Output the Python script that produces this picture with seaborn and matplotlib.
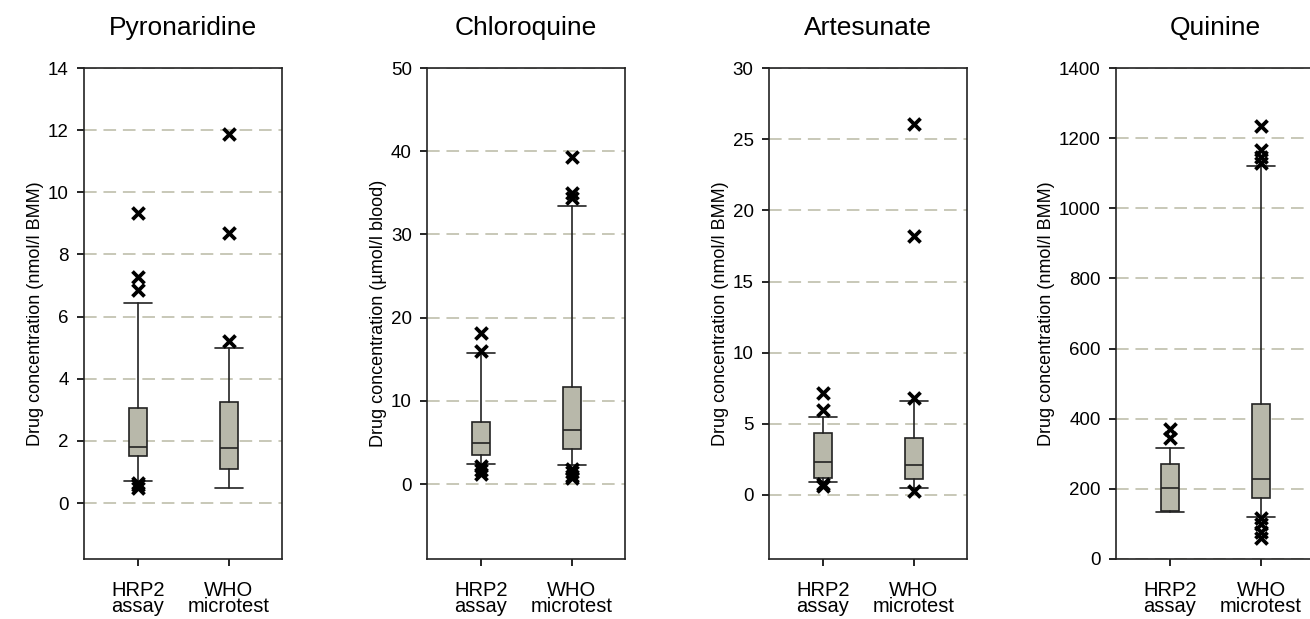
import seaborn as sns
import matplotlib.pyplot as plt
import pandas as pd
import numpy as np

# five-number summaries: whisker low, Q1, median, Q3, whisker high
drugs = ['Pyronaridine', 'Chloroquine', 'Artesunate', 'Quinine']
methods = ['HRP2\nassay', 'WHO\nmicrotest']
ylabels = ['Drug concentration (nmol/l BMM)', 'Drug concentration (µmol/l blood)',
           'Drug concentration (nmol/l BMM)', 'Drug concentration (nmol/l BMM)']

pyro_hrp2 = [0.70, 1.51, 1.80, 3.07, 6.43]
pyro_who = [0.50, 1.10, 1.76, 3.25, 5.00]
pyro_hrp2_out = [9.33, 7.28, 6.85, 0.66, 0.58, 0.50]
pyro_who_out = [11.87, 8.68, 5.20]

chloro_hrp2 = [2.44, 3.46, 4.88, 7.45, 15.7]
chloro_who = [2.35, 4.26, 6.56, 11.66, 33.4]
chloro_hrp2_out = [18.1, 15.96, 2.2, 1.7, 1.2]
chloro_who_out = [39.3, 35.0, 34.4, 1.8, 1.4, 1.0, 0.7]

arte_hrp2 = [0.91, 1.17, 2.33, 4.33, 5.50]
arte_who = [0.49, 1.09, 2.07, 4.02, 6.59]
arte_hrp2_out = [7.18, 5.94, 0.75, 0.60]
arte_who_out = [26.1, 18.2, 6.84, 0.31]

quin_hrp2 = [133, 137, 202, 272, 317]
quin_who = [120, 175, 228, 443, 1120]
quin_hrp2_out = [372, 345]
quin_who_out = [1236, 1165, 1145, 1128, 118, 100, 78, 60]

summaries = [(pyro_hrp2, pyro_who), (chloro_hrp2, chloro_who),
             (arte_hrp2, arte_who), (quin_hrp2, quin_who)]
outliers = [(pyro_hrp2_out, pyro_who_out), (chloro_hrp2_out, chloro_who_out),
            (arte_hrp2_out, arte_who_out), (quin_hrp2_out, quin_who_out)]

y_limits = [(-1.8, 14), (-9, 50), (-4.5, 30), (0, 1400)]
y_steps = [2, 10, 5, 200]

sns.set_style('ticks')
plt.rcParams['font.family'] = ['Liberation Sans', 'DejaVu Sans']
plt.rcParams['text.color'] = 'black'
plt.rcParams['xtick.color'] = 'black'
plt.rcParams['ytick.color'] = 'black'
plt.rcParams['axes.labelcolor'] = 'black'

box_color = '#b8b8aa'
grid_color = '#c8c8b8'

fig = plt.figure(figsize=(13.1, 6.19), dpi=100)
lefts = [0.0641, 0.326, 0.587, 0.852]

for i, drug in enumerate(drugs):
    ax = fig.add_axes([lefts[i], 0.097, 0.151, 0.793])
    stats = []
    for j, s in enumerate(summaries[i]):
        stats.append({'whislo': s[0], 'q1': s[1], 'med': s[2], 'q3': s[3],
                      'whishi': s[4], 'fliers': [], 'label': methods[j]})
    ax.bxp(stats, positions=[1, 2], widths=0.2, patch_artist=True,
           showfliers=False,
           boxprops=dict(facecolor=box_color, edgecolor='#222222', linewidth=1.2),
           medianprops=dict(color='#222222', linewidth=1.2),
           whiskerprops=dict(color='#222222', linewidth=1.2),
           capprops=dict(color='#222222', linewidth=1.2), capwidths=0.31,
           zorder=3)

    rows = []
    for j, outs in enumerate(outliers[i]):
        for v in outs:
            rows.append({'pos': j + 1, 'value': v})
    out_df = pd.DataFrame(rows)
    sns.scatterplot(data=out_df, x='pos', y='value', marker='x', color='black',
                    s=75, linewidth=2.7, ax=ax, zorder=4)

    lo, hi = y_limits[i]
    ax.set_ylim(lo, hi)
    ax.set_xlim(0.41, 2.58)
    ax.set_yticks(np.arange(0, hi + 1e-9, y_steps[i]))
    ax.set_xticks([1, 2])
    ax.set_xticklabels(methods, fontsize=14.5, linespacing=0.8)
    ax.tick_params(axis='y', labelsize=13.5, length=5, width=1.2, pad=6)
    ax.tick_params(axis='x', length=5, width=1.2, pad=11)
    ax.grid(axis='y', color=grid_color, linestyle=(0, (6.5, 3.5)), linewidth=1.4, zorder=0)
    ax.set_axisbelow(True)
    ax.set_xlabel('')
    ax.set_ylabel(ylabels[i], fontsize=13, labelpad=3)
    ax.set_title(drug, fontsize=19, pad=24)
    for sp in ax.spines.values():
        sp.set_linewidth(1.2)
        sp.set_color('#222222')

plt.savefig('out.png', dpi=100)
